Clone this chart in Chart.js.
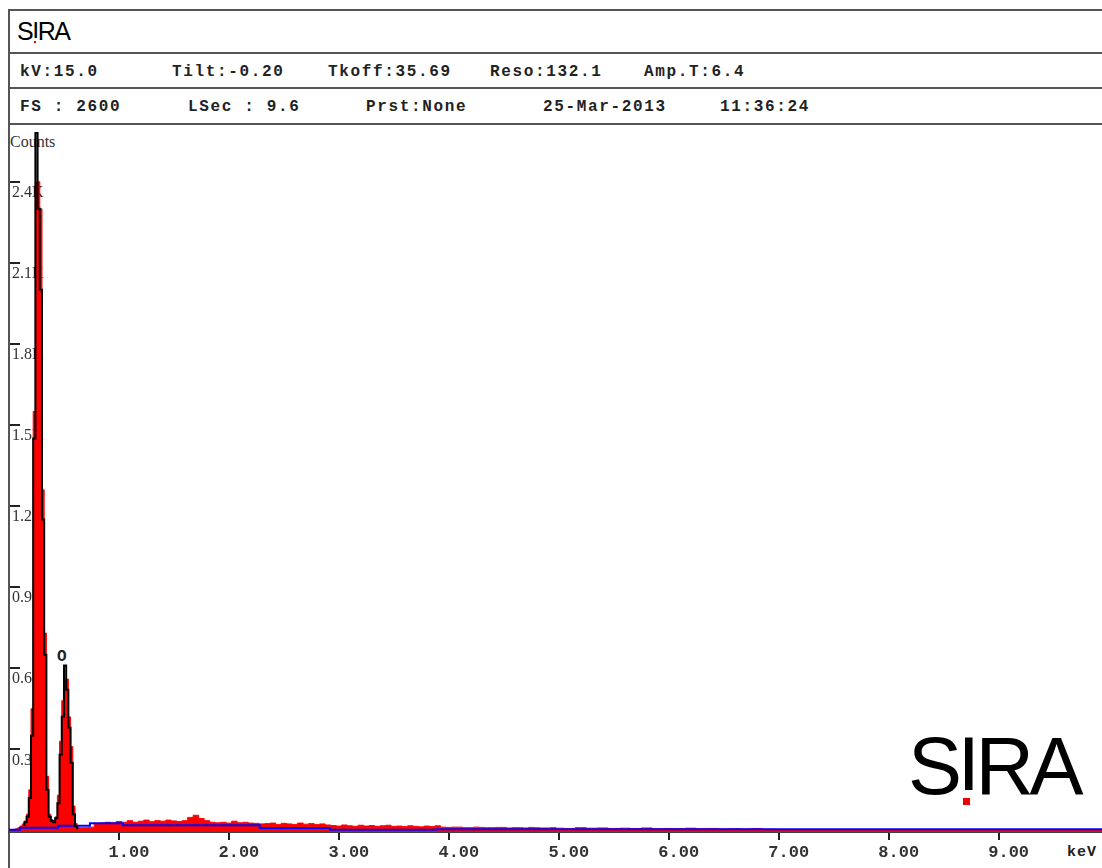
<!DOCTYPE html>
<html><head><meta charset="utf-8">
<script src="https://cdn.jsdelivr.net/npm/chart.js@4.4.1/dist/chart.umd.min.js"></script>
<style>
html,body{margin:0;padding:0;background:#fff;}
body{width:1102px;height:868px;overflow:hidden;position:relative;}
.ln{position:absolute;background:#555;}
.hdr{position:absolute;font-family:"Liberation Mono",monospace;font-weight:bold;font-size:16px;letter-spacing:1.65px;color:#222;white-space:pre;line-height:20px;}
.logo{position:absolute;font-family:"Liberation Sans",Arial,sans-serif;color:#000;white-space:pre;line-height:1;}
.ii{position:relative;}
.ii::before{content:'';position:absolute;left:0;right:0;bottom:0.212em;height:0.05em;background:#fff;}
.ii::after{content:'';position:absolute;left:50%;margin-left:-0.045em;width:0.09em;height:0.09em;bottom:calc(0.212em - 0.14em);background:#e00;}
#wrap{position:absolute;left:0;top:124px;width:1102px;height:744px;z-index:2;}
.lbl{position:absolute;white-space:pre;}
</style></head><body>
<div class="ln" style="left:8px;top:9px;width:2px;height:859px"></div>
<div class="ln" style="left:8px;top:9px;width:1094px;height:2px"></div>
<div class="ln" style="left:8px;top:52px;width:1094px;height:2px"></div>
<div class="ln" style="left:8px;top:87px;width:1094px;height:2px"></div>
<div class="ln" style="left:8px;top:123px;width:1094px;height:2px"></div>

<div class="logo" style="left:17px;top:19px;font-size:25px;letter-spacing:-1.5px">S<span class="ii">I</span>RA</div>

<div class="hdr" style="left:20px;top:62px">kV:15.0</div>
<div class="hdr" style="left:172px;top:62px">Tilt:-0.20</div>
<div class="hdr" style="left:328px;top:62px">Tkoff:35.69</div>
<div class="hdr" style="left:490px;top:62px">Reso:132.1</div>
<div class="hdr" style="left:644px;top:62px">Amp.T:6.4</div>
<div class="hdr" style="left:20px;top:97px">FS : 2600</div>
<div class="hdr" style="left:188px;top:97px">LSec : 9.6</div>
<div class="hdr" style="left:366px;top:97px">Prst:None</div>
<div class="hdr" style="left:543px;top:97px">25-Mar-2013</div>
<div class="hdr" style="left:720px;top:97px">11:36:24</div>

<div class="lbl" style="left:10px;top:132px;font-family:'Liberation Serif',serif;font-size:16px;color:#333;line-height:20px">Counts</div>
<div class="lbl" style="left:57px;top:647px;font-family:'Liberation Mono',monospace;font-weight:bold;font-size:16px;color:#222;line-height:20px">O</div>
<div class="lbl" style="left:1067px;top:843px;font-family:'Liberation Mono',monospace;font-weight:bold;font-size:15px;letter-spacing:1px;color:#222;line-height:20px">keV</div>

<div class="logo" style="left:908px;top:726px;font-size:81px;letter-spacing:-4.5px">S<span class="ii">I</span>RA</div>

<div id="wrap"><canvas id="c" width="1102" height="744"></canvas></div>

<script>
// ---- data ----
const specEnergy = [0.01,0.03,0.05,0.07,0.09,0.11,0.13,0.15,0.17,0.19,0.21,0.23,0.25,0.27,0.29,0.31,0.33,0.35,0.37,0.39,0.41,0.43,0.45,0.47,0.49,0.51,0.53,0.55,0.57,0.59,0.61,0.63,
  0.65,0.70,0.75,0.80,0.85,0.90,0.95,1.00,1.05,1.10,1.15,1.20,1.25,1.30,1.35,1.40,1.45,1.50,1.55,1.60,1.65,1.70,1.75,1.80,1.85,1.90,1.95,
  2.00,2.05,2.10,2.15,2.20,2.25,2.30,2.35,2.40,2.45,2.50,2.55,2.60,2.65,2.70,2.75,2.80,2.85,2.90,2.95,
  3.00,3.05,3.10,3.15,3.20,3.25,3.30,3.35,3.40,3.45,3.50,3.55,3.60,3.65,3.70,3.75,3.80,3.85,3.90,3.95,
  4.00,4.05,4.10,4.15,4.20,4.25,4.30,4.35,4.40,4.45,4.50,4.55,4.60,4.65,4.70,4.75,4.80,4.85,4.90,4.95,
  5.00,5.10,5.20,5.30,5.40,5.50,5.60,5.70,5.80,5.90,6.00,6.10,6.20,6.30,6.40,6.50,6.60,6.70,6.80,6.90,
  7.00,7.20,7.40,7.60,7.80,8.00,8.20,8.40,8.60,8.80,9.00,9.20,9.40,9.60,9.80,9.94];
const specCounts = [0,1,3,6,10,16,24,35,60,150,450,1550,2400,2400,2300,1260,730,200,60,40,35,50,130,330,480,560,560,420,310,90,25,12,
  10,10,12,24,27,30,28,33,30,36,30,34,38,32,36,34,38,35,33,36,48,56,44,36,30,28,30,
  27,34,28,30,27,26,24,25,27,22,26,24,22,27,23,25,22,24,20,18,
  16,20,17,15,19,16,18,15,17,19,15,16,14,17,15,13,16,14,17,12,
  11,12,12,10,10,12,11,10,10,11,11,9,10,10,9,11,10,9,9,10,
  8,7,10,8,9,7,8,7,9,6,7,6,8,6,7,5,6,5,7,4,
  3,3,3,3,3,3,3,3,3,3,3,3,3,3,3,3];

const outlineEnergy = [0.13,0.15,0.17,0.19,0.21,0.23,0.25,0.27,0.29,0.31,0.33,0.35,0.37,0.39,0.41,0.43,0.45,0.47,0.49,0.51,0.53,0.55,0.57,0.59,0.61,0.63];
const outlineCounts = [20,30,50,120,350,1450,2580,2300,2000,1150,650,150,50,35,30,45,100,280,420,610,520,380,250,60,15,8];

const bgEnergy = [0.00,0.10,0.445,0.736,1.036,2.28,2.92,3.89,4.98,9.94];
const bgCounts = [0,2,10,17,26,19,9,2,4,4];

const xTickValues = [1,2,3,4,5,6,7,8,9];
const xTickLabels = ["1.00","2.00","3.00","4.00","5.00","6.00","7.00","8.00","9.00"];
const yTickValues = [300,600,900,1200,1500,1800,2100,2400];
const yTickLabels = ["0.3K","0.6K","0.9K","1.2K","1.5K","1.8K","2.1K","2.4K"];

// ---- build ----
const pts = (xs, ys) => xs.map((x, i) => ({x: x, y: ys[i]}));

const yTickMarks = {
  id: 'yTickMarks',
  afterDatasetsDraw(chart) {
    const ctx = chart.ctx;
    const area = chart.chartArea;
    const y = chart.scales.y;
    ctx.save();
    ctx.strokeStyle = '#222';
    ctx.lineWidth = 2;
    yTickValues.forEach(v => {
      const py = Math.round(y.getPixelForValue(v));
      ctx.beginPath();
      ctx.moveTo(area.left + 1, py);
      ctx.lineTo(area.left + 11, py);
      ctx.stroke();
    });
    ctx.restore();
  }
};

new Chart(document.getElementById('c'), {
  type: 'line',
  data: {
    datasets: [
      {label: 'outline', data: pts(outlineEnergy, outlineCounts), stepped: 'middle', fill: false,
       borderColor: '#000', borderWidth: 2, pointRadius: 0, order: 1},
      {label: 'background', data: pts(bgEnergy, bgCounts), stepped: 'after', fill: false,
       borderColor: '#0000ff', borderWidth: 2, pointRadius: 0, order: 2},
      {label: 'spectrum', data: pts(specEnergy, specCounts), stepped: 'middle', fill: 'start',
       backgroundColor: '#ff0000', borderColor: '#ff0000', borderWidth: 1, pointRadius: 0, order: 3}
    ]
  },
  options: {
    responsive: false,
    devicePixelRatio: 1,
    animation: false,
    events: [],
    layout: {padding: {top: 1, left: 0, right: 0, bottom: 0}},
    plugins: {legend: {display: false}, tooltip: {enabled: false}},
    scales: {
      x: {
        type: 'linear', position: 'bottom', min: 0, max: 9.94,
        afterFit: s => { s.height = 36; s.paddingLeft = 0; s.paddingRight = 0; },
        afterBuildTicks: s => { s.ticks = xTickValues.map(v => ({value: v})); },
        ticks: {
          callback: (v, i) => xTickLabels[i],
          font: {family: 'Liberation Mono', size: 17, weight: 'bold'},
          color: '#333', padding: 3, labelOffset: 10, maxRotation: 0, autoSkip: false
        },
        grid: {drawOnChartArea: false, drawTicks: true, tickLength: 8, color: '#222', lineWidth: 2},
        border: {display: true, color: '#444', width: 2}
      },
      y: {
        type: 'linear', position: 'left', min: -6, max: 2610,
        afterFit: s => { s.width = 9; s.paddingTop = 0; s.paddingBottom = 0; },
        afterBuildTicks: s => { s.ticks = yTickValues.map(v => ({value: v})); },
        ticks: {
          mirror: true, padding: 3, labelOffset: 11, autoSkip: false,
          callback: (v, i) => yTickLabels[i],
          font: {family: 'Liberation Serif', size: 16},
          color: '#333'
        },
        grid: {display: false},
        border: {display: false}
      }
    }
  },
  plugins: [yTickMarks]
});
</script>
</body></html>
